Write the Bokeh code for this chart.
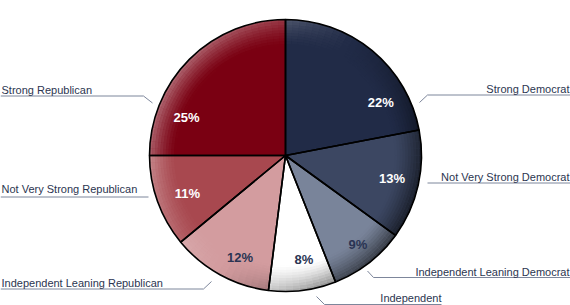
import numpy as np
from bokeh.plotting import figure
from bokeh.models import Range1d
from bokeh.embed import file_html
from bokeh.resources import INLINE
from bokeh.core.properties import value

# ---- data ----
categories = ["Strong Democrat", "Not Very Strong Democrat", "Independent Leaning Democrat",
              "Independent", "Independent Leaning Republican", "Not Very Strong Republican",
              "Strong Republican"]
shares = [22, 13, 9, 8, 12, 11, 25]
pct_labels = ["22%", "13%", "9%", "8%", "12%", "11%", "25%"]

# ---- styling ----
colors = ["#212b47", "#3c4762", "#79849a", "#ffffff", "#d39c9f", "#a8484f", "#7a0012"]
pct_colors = ["#ffffff", "#ffffff", "#2a3453", "#2a3453", "#2a3453", "#ffffff", "#ffffff"]
W, H = 570, 305
CX, CY, R = 285, 155, 136          # screen coords (y down)
FONT = "Liberation Sans"
TXT = "#2b3550"
LINE = "#7d869b"

def sy(y):  # screen y -> data y
    return H - y

p = figure(width=W, height=H, output_backend="svg", toolbar_location=None,
           x_range=Range1d(0, W), y_range=Range1d(0, H), min_border=0)
p.axis.visible = False
p.grid.visible = False
p.outline_line_color = None
p.background_fill_color = "white"
p.border_fill_color = "white"

vals = np.array(shares, dtype=float)
frac = vals / vals.sum()
cum = np.concatenate([[0], np.cumsum(frac)])
start = np.pi / 2 - cum[:-1] * 2 * np.pi
end = np.pi / 2 - cum[1:] * 2 * np.pi

p.wedge(x=CX, y=sy(CY), radius=R, start_angle=start, end_angle=end, direction="clock",
        fill_color=colors, line_color=None)

# rim shading (lighting from upper-left)
n_ang, n_rad = 120, 10
r0 = 0.80 * R
xs_in, xs_out, sa, ea, fc, fa = [], [], [], [], [], []
for i in range(n_ang):
    a0 = 2 * np.pi * i / n_ang
    a1 = 2 * np.pi * (i + 1) / n_ang
    am = 0.5 * (a0 + a1)
    L = np.cos(am - np.radians(150))
    for j in range(n_rad):
        ri = r0 + (R - r0) * j / n_rad
        ro = r0 + (R - r0) * (j + 1) / n_rad
        t = ((j + 0.5) / n_rad) ** 1.4
        if L >= 0:
            c, al = "white", 0.42 * L * t
        else:
            c, al = "black", 0.60 * (-L) * t
        xs_in.append(ri); xs_out.append(ro); sa.append(a0); ea.append(a1)
        fc.append(c); fa.append(al)
p.annular_wedge(x=CX, y=sy(CY), inner_radius=xs_in, outer_radius=xs_out,
                start_angle=sa, end_angle=ea, fill_color=fc, fill_alpha=fa, line_color=None)

# borders
p.wedge(x=CX, y=sy(CY), radius=R, start_angle=start, end_angle=end, direction="clock",
        fill_alpha=0, line_color="black", line_width=1.6)

# percentage labels (polar layout: degrees clockwise from top, radius px)
pct_pos = [(61, 109), (102, 109), (141, 115), (170, 106), (204, 112), (249, 105), (291, 106)]
px = [CX + r * np.sin(np.radians(a)) for a, r in pct_pos]
py = [sy(CY - r * np.cos(np.radians(a))) for a, r in pct_pos]
p.text(x=px, y=py, text=pct_labels, text_color=pct_colors, text_font=value(FONT),
       text_font_size="13px", text_font_style="bold", text_align="center",
       text_baseline="middle")

# category labels: (text x, text middle y, align, leader polyline) in screen px
cat_layout = [
    (569, 88, "right", [(419, 102), (427, 94.5), (570, 94.5)]),
    (569, 176, "right", [(427, 182.5), (570, 182.5)]),
    (569, 271, "right", [(367, 270.5), (373, 277), (570, 277)]),
    (441, 297.5, "right", [(316, 296), (324, 304), (441, 304)]),
    (1, 282, "left", [(0, 288.5), (203, 288.5), (211, 281)]),
    (1, 188, "left", [(0, 196.5), (148, 196.5)]),
    (1, 89, "left", [(0, 95.5), (143, 95.5), (152, 102.5)]),
]
for name, (tx, ty, al, pts) in zip(categories, cat_layout):
    p.line(x=[q[0] for q in pts], y=[sy(q[1]) for q in pts], line_color=LINE, line_width=1)
    p.text(x=[tx], y=[sy(ty)], text=[name], text_color=TXT, text_font=value(FONT),
           text_font_size="11px", text_align=al, text_baseline="middle")

open("out.html", "w").write(file_html(p, INLINE))
